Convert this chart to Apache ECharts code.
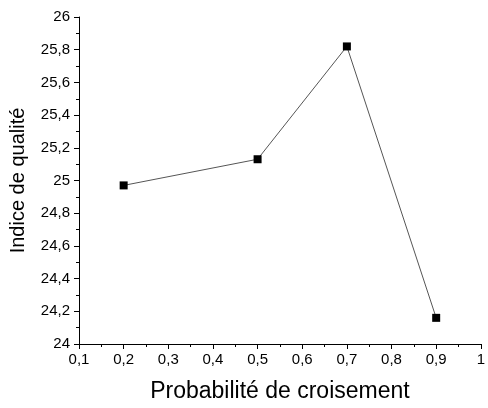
<!DOCTYPE html>
<html>
<head>
<meta charset="utf-8">
<script src="https://cdn.jsdelivr.net/npm/echarts@6/dist/echarts.min.js"></script>
<style>
  html, body { margin: 0; padding: 0; background: #fff; }
  #chart { width: 488px; height: 408px; }
</style>
</head>
<body>
<div id="chart"></div>
<script>
// donnees
const probas = [0.2, 0.5, 0.7, 0.9];
const indices = [24.97, 25.13, 25.82, 24.16];

const points = probas.map((p, i) => [p, indices[i]]);
const virgule = v => String(+v.toFixed(1)).replace('.', ',');

const myChart = echarts.init(document.getElementById('chart'));
myChart.setOption({
    animation: false,
    textStyle: { fontFamily: 'Liberation Sans' },
    grid: { left: 74, right: 3, top: 17, bottom: 60 },
    xAxis: {
        type: 'value',
        min: 0.1, max: 1, interval: 0.1,
        name: 'Probabilité de croisement',
        nameLocation: 'middle',
        nameGap: 36,
        nameTextStyle: { fontSize: 23, color: '#000' },
        axisLine: { lineStyle: { color: '#000', width: 1 } },
        axisTick: { inside: false, length: 5, lineStyle: { color: '#000' } },
        minorTick: { show: true, splitNumber: 2, length: 3, lineStyle: { color: '#000' } },
        splitLine: { show: false },
        axisLabel: { fontSize: 15, color: '#000', margin: 8, formatter: virgule }
    },
    yAxis: {
        type: 'value',
        min: 24, max: 26, interval: 0.2,
        name: 'Indice de qualité',
        nameLocation: 'middle',
        nameGap: 51,
        nameTextStyle: { fontSize: 20, color: '#000' },
        axisLine: { show: true, lineStyle: { color: '#000', width: 1 } },
        axisTick: { show: true, inside: false, length: 5, lineStyle: { color: '#000' } },
        minorTick: { show: true, splitNumber: 2, length: 3, lineStyle: { color: '#000' } },
        splitLine: { show: false },
        axisLabel: { fontSize: 15, color: '#000', margin: 9, formatter: virgule }
    },
    series: [{
        type: 'line',
        data: points,
        symbol: 'rect',
        symbolSize: 8,
        itemStyle: { color: '#000' },
        lineStyle: { color: '#555', width: 1 }
    }]
});
</script>
</body>
</html>
